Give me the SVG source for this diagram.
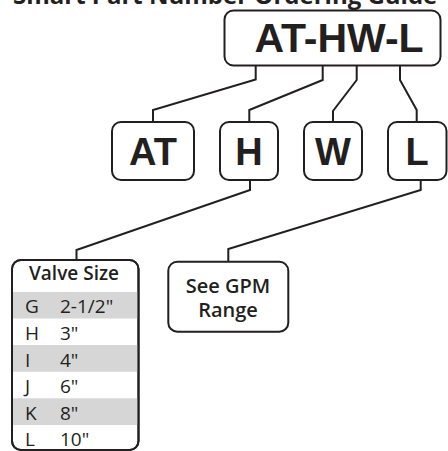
<svg xmlns="http://www.w3.org/2000/svg" width="448" height="451" viewBox="0 0 448 451">
<style>
.box{fill:#fff;stroke:#231f20;stroke-width:2}
.conn{fill:none;stroke:#231f20;stroke-width:2;stroke-linejoin:miter}
.big{font-family:"Liberation Sans",Arial,sans-serif;font-weight:bold;fill:#231f20;text-anchor:middle}
.lbl{font-family:"Open Sans",sans-serif;font-weight:600;fill:#231f20;text-anchor:middle}
.row{font-family:"Open Sans",sans-serif;font-size:19px;fill:#231f20}
.gray{fill:#d6d6d6}
.title{font-family:"Open Sans",sans-serif;font-weight:bold;font-size:24px;fill:#231f20}
</style>
<text class="title" x="13" y="4">Smart Part Number Ordering Guide</text>
<g id="connectors">
<polyline class="conn" points="255.7,65 255.7,79.5 153,110 153,122"/>
<polyline class="conn" points="322.7,65 322.7,80 249.3,110 249.3,122"/>
<polyline class="conn" points="356.7,65 356.7,80 333,111 333,122"/>
<polyline class="conn" points="400,65 400,80 416.7,110 416.7,122"/>
<polyline class="conn" points="250,180 250,190 76.5,250 76.5,260"/>
<polyline class="conn" points="420.7,180 420.7,190 228.3,249 228.3,261.7"/>
</g>
<g id="top">
<rect class="box" x="224.5" y="10.5" width="216" height="55" rx="9"/>
<text class="big" x="339" y="52" font-size="41">AT-HW-L</text>
</g>
<g id="AT">
<rect class="box" x="112" y="122" width="82" height="58" rx="9"/>
<text class="big" x="153" y="165" font-size="38">AT</text>
</g>
<g id="H">
<rect class="box" x="220" y="122" width="58" height="58" rx="9"/>
<text class="big" x="249" y="165" font-size="38">H</text>
</g>
<g id="W">
<rect class="box" x="304" y="122" width="58" height="58" rx="9"/>
<text class="big" x="333" y="165" font-size="38">W</text>
</g>
<g id="L">
<rect class="box" x="388" y="122" width="58.5" height="58" rx="9"/>
<text class="big" x="417" y="165" font-size="38">L</text>
</g>
<g id="valve-size">
<rect class="box" x="12" y="260" width="126.5" height="190" rx="9"/>
<rect class="gray" x="13" y="292" width="124.5" height="26.5"/>
<rect class="gray" x="13" y="345" width="124.5" height="26.7"/>
<rect class="gray" x="13" y="398.3" width="124.5" height="26.7"/>
<rect x="12" y="260" width="126.5" height="190" rx="9" fill="none" stroke="#231f20" stroke-width="2"/>
<text class="lbl" x="74" y="280" font-size="19">Valve Size</text>
<text class="row" x="25" y="313.3">G</text><text class="row" x="60" y="313.3">2-1/2"</text>
<text class="row" x="25" y="340">H</text><text class="row" x="60" y="340">3"</text>
<text class="row" x="25" y="366.7">I</text><text class="row" x="60" y="366.7">4"</text>
<text class="row" x="25" y="393.3">J</text><text class="row" x="60" y="393.3">6"</text>
<text class="row" x="25" y="420">K</text><text class="row" x="60" y="420">8"</text>
<text class="row" x="25" y="446">L</text><text class="row" x="60" y="446">10"</text>
</g>
<g id="gpm">
<rect class="box" x="168.3" y="261.7" width="120" height="70" rx="9"/>
<text class="lbl" x="228" y="292.5" font-size="20">See GPM</text>
<text class="lbl" x="228" y="316.5" font-size="20">Range</text>
</g>
</svg>
